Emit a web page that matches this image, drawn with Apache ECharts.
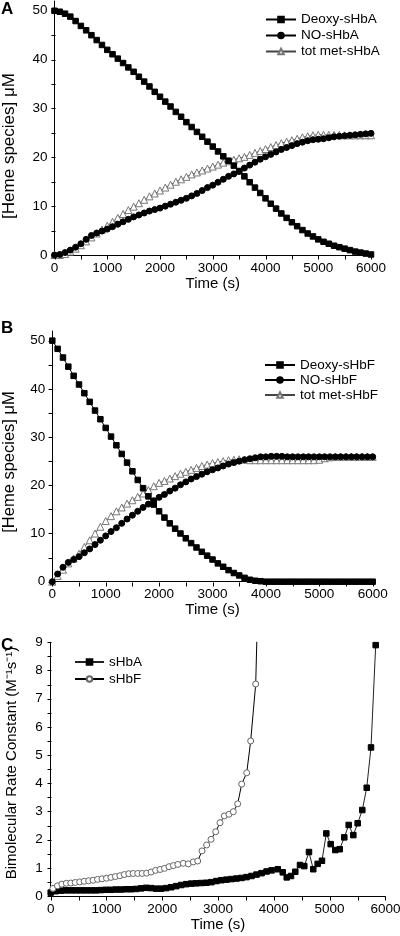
<!DOCTYPE html>
<html><head><meta charset="utf-8">
<script src="https://cdn.jsdelivr.net/npm/echarts@6/dist/echarts.min.js"></script>
<style>html,body{margin:0;padding:0;background:#fff}#c{width:400px;height:936px}</style>
</head><body><div id="c"></div>
<script>
// ---------- Data ----------
const timeAB = [0,100,200,300,400,500,600,700,800,900,1000,1100,1200,1300,1400,1500,1600,1700,1800,1900,2000,2100,2200,2300,2400,2500,2600,2700,2800,2900,3000,3100,3200,3300,3400,3500,3600,3700,3800,3900,4000,4100,4200,4300,4400,4500,4600,4700,4800,4900,5000,5100,5200,5300,5400,5500,5600,5700,5800,5900,6000];

const deoxyA = [50.0,49.8,49.4,48.8,47.9,46.9,46.0,45.0,44.0,43.0,42.0,41.1,40.2,39.3,38.4,37.5,36.5,35.5,34.5,33.4,32.4,31.4,30.4,29.3,28.3,27.2,26.2,25.2,24.2,23.2,22.2,21.2,20.2,19.3,18.3,17.2,16.1,14.9,13.8,12.7,11.6,10.5,9.5,8.5,7.6,6.7,5.9,5.1,4.4,3.8,3.2,2.7,2.3,1.9,1.6,1.3,1.0,0.7,0.5,0.3,0.1];
const noA = [0,0.1,0.5,1.0,1.6,2.3,3.2,4.0,4.5,4.9,5.3,5.8,6.3,6.8,7.3,7.8,8.2,8.6,9.0,9.3,9.6,10.0,10.4,10.8,11.2,11.6,12.1,12.6,13.2,13.8,14.3,14.9,15.5,16.1,16.6,17.1,17.8,18.4,19.0,19.6,20.1,20.6,21.1,21.6,22.0,22.4,22.8,23.1,23.4,23.6,23.7,23.8,24.0,24.2,24.3,24.4,24.5,24.6,24.7,24.8,24.9];
const metA = [0,0,0.2,0.7,1.3,2.0,2.8,3.6,4.4,5.2,6.0,6.8,7.6,8.4,9.2,9.9,10.6,11.3,12.0,12.6,13.2,13.8,14.4,15.0,15.5,16.0,16.5,16.9,17.3,17.7,18.1,18.5,18.9,19.2,19.5,19.8,20.1,20.5,20.9,21.3,21.7,22.1,22.5,22.9,23.2,23.5,23.8,24.1,24.3,24.5,24.6,24.6,24.6,24.6,24.6,24.5,24.5,24.5,24.5,24.5,24.5];

const deoxyB = [50.0,48.3,46.5,44.6,42.7,40.9,39.1,37.3,35.5,33.7,31.9,30.1,28.3,26.5,24.7,22.9,21.1,19.4,17.7,16.0,14.6,13.3,12.1,11.0,10.0,9.0,8.0,7.1,6.2,5.4,4.6,3.8,3.1,2.4,1.8,1.3,0.8,0.4,0.2,0.1,0,0,0,0,0,0,0,0,0,0,0,0,0,0,0,0,0,0,0,0,0];
const noB = [0,1.6,3.0,4.0,4.6,5.2,6.0,6.8,7.7,8.6,9.5,10.4,11.2,12.1,13.0,13.8,14.6,15.4,16.1,16.8,17.5,18.1,18.8,19.4,20.1,20.7,21.3,21.8,22.3,22.8,23.2,23.6,24.0,24.4,24.7,25.0,25.3,25.5,25.7,25.9,25.9,26.0,26.0,26.0,25.9,25.9,25.9,25.9,25.9,25.9,25.9,25.9,25.9,25.9,25.9,25.9,25.9,25.9,25.9,25.9,25.9];
const metB = [0,1.2,2.5,3.8,4.8,5.8,7.2,8.6,10.0,11.4,12.6,13.6,14.6,15.4,16.2,16.9,17.6,18.3,19.0,19.8,20.5,20.9,21.4,21.9,22.4,22.8,23.2,23.6,24.0,24.3,24.6,24.8,25.0,25.2,25.3,25.4,25.3,25.2,25.2,25.2,25.2,25.2,25.2,25.2,25.2,25.2,25.2,25.2,25.2,25.2,25.3,25.6,25.8,25.9,25.9,25.9,25.9,25.9,25.9,25.9,25.9];

const sHbA_t = [0,90,180,270,360,450,540,630,720,810,900,990,1080,1170,1260,1350,1440,1530,1620,1710,1800,1890,1980,2070,2160,2250,2340,2430,2520,2610,2700,2790,2880,2970,3060,3150,3240,3330,3420,3510,3600,3690,3780,3870,3960,4070,4160,4231,4308,4385,4469,4546,4630,4707,4786,4863,4941,5019,5102,5181,5263,5342,5425,5503,5586,5665,5742,5826];
const sHbA_v = [0.12,0.17,0.19,0.20,0.20,0.20,0.20,0.20,0.20,0.20,0.21,0.22,0.22,0.23,0.23,0.24,0.24,0.25,0.27,0.29,0.28,0.26,0.26,0.28,0.31,0.35,0.39,0.42,0.44,0.45,0.46,0.47,0.49,0.53,0.56,0.58,0.60,0.62,0.64,0.67,0.71,0.76,0.81,0.87,0.91,0.95,0.84,0.66,0.71,0.86,1.10,1.06,1.56,0.95,1.14,1.25,2.22,1.84,1.63,1.66,2.08,2.52,2.16,2.58,3.05,3.84,5.27,8.90];
const sHbF_t = [40,120,200,280,360,440,520,600,680,760,840,920,1000,1080,1160,1240,1320,1400,1480,1560,1640,1720,1800,1880,1960,2040,2120,2200,2280,2377,2467,2557,2635,2712,2796,2874,2958,3035,3112,3196,3274,3352,3424,3514,3585,3675,3720];
const sHbF_v = [0.27,0.36,0.42,0.45,0.46,0.48,0.50,0.52,0.54,0.56,0.59,0.61,0.63,0.66,0.69,0.72,0.76,0.79,0.80,0.80,0.80,0.81,0.85,0.91,0.94,0.98,1.04,1.08,1.12,1.16,1.14,1.21,1.24,1.60,1.81,2.01,2.28,2.60,2.84,2.90,2.99,3.27,3.97,4.37,5.50,7.52,11.0];

// tick positions (major ticks carry labels)
const xTickVals = [0,500,1000,1500,2000,2500,3000,3500,4000,4500,5000,5500,6000];
const yTickValsAB = [0,5,10,15,20,25,30,35,40,45,50];
const yLabelValsAB = [0,10,20,30,40,50];
const yTickValsC = [0,0.5,1,1.5,2,2.5,3,3.5,4,4.5,5,5.5,6,6.5,7,7.5,8,8.5,9];

// ---------- Chart ----------
const FONT = '"Liberation Sans", Arial, sans-serif';
const chart = echarts.init(document.getElementById('c'), null, {renderer: 'canvas'});
function pairs(t, v) { return t.map((x, i) => [x, v[i]]); }
const plain = v => String(v);

function xAx(gi) {
  return {
    type: 'value', gridIndex: gi, min: 0, max: 6000, interval: 1000,
    name: 'Time (s)', nameLocation: 'middle', nameGap: gi === 0 ? 21.5 : (gi === 1 ? 21 : 18.5),
    nameTextStyle: {fontFamily: FONT, fontSize: 15, color: '#000'},
    axisLine: {show: true, onZero: false, lineStyle: {color: '#000', width: 1}},
    axisTick: {show: false},
    axisLabel: {margin: 6, formatter: plain, fontFamily: FONT, fontSize: 13.5, color: '#000'},
    splitLine: {show: false}
  };
}
function yAx(gi, max) {
  return {
    type: 'value', gridIndex: gi, min: 0, max: max, interval: gi === 2 ? 1 : 10,
    axisLine: {show: true, onZero: false, lineStyle: {color: '#000', width: 1}},
    axisTick: {show: false},
    axisLabel: {margin: gi === 2 ? 8 : 7, showMaxLabel: gi === 2,
      formatter: v => (gi === 2 || yLabelValsAB.indexOf(v) >= 0) ? String(v) : '',
      fontFamily: FONT, fontSize: 13.5, color: '#000'},
    splitLine: {show: false}
  };
}
function ser(name, gi, data, symbol, size, fill, border, lineColor) {
  return {
    name: name, type: 'line', xAxisIndex: gi, yAxisIndex: gi, data: data,
    symbol: symbol, symbolSize: size, showSymbol: true, clip: true,
    itemStyle: {color: fill, borderColor: border, borderWidth: 1},
    lineStyle: {color: lineColor, width: 1},
    emphasis: {disabled: true}
  };
}
const legText = {fontFamily: FONT, fontSize: 13.5, color: '#000', lineHeight: 14};

const baseGraphic = [
  {type: 'text', left: 1, top: 1, style: {text: 'A', font: 'bold 17px ' + FONT, fill: '#000'}},
  {type: 'text', left: 1, top: 320, style: {text: 'B', font: 'bold 17px ' + FONT, fill: '#000'}},
  {type: 'text', left: 1, top: 637, style: {text: 'C', font: 'bold 17px ' + FONT, fill: '#000'}},
  {type: 'text', x: 9, y: 146, rotation: Math.PI / 2, style: {text: '[Heme species] μM', font: '17px ' + FONT, fill: '#000', align: 'center', verticalAlign: 'middle'}},
  {type: 'text', x: 9, y: 462, rotation: Math.PI / 2, style: {text: '[Heme species] μM', font: '16.5px ' + FONT, fill: '#000', align: 'center', verticalAlign: 'middle'}},
  {type: 'text', x: 11.5, y: 763, rotation: Math.PI / 2, style: {text: 'Bimolecular Rate Constant (M⁻¹s⁻¹)', font: '15px ' + FONT, fill: '#000', align: 'center', verticalAlign: 'middle'}}
];

const option = {
  animation: false,
  backgroundColor: '#fff',
  grid: [
    {left: 54.5, top: 1, width: 316.5, height: 254, outerBoundsMode: 'none'},
    {left: 52.3, top: 331, width: 320.4, height: 250.7, outerBoundsMode: 'none'},
    {left: 50.7, top: 642.3, width: 334.7, height: 253.7, outerBoundsMode: 'none'}
  ],
  xAxis: [xAx(0), xAx(1), xAx(2)],
  yAxis: [yAx(0, 52), yAx(1, 52), yAx(2, 9)],
  legend: [
    {data: ['Deoxy-sHbA', 'NO-sHbA', 'tot met-sHbA'], orient: 'vertical', left: 260, top: 7.5, itemWidth: 30, itemHeight: 7, itemGap: 2, selectedMode: false, textStyle: legText},
    {data: ['Deoxy-sHbF', 'NO-sHbF', 'tot met-sHbF'], orient: 'vertical', left: 259, top: 353, itemWidth: 30, itemHeight: 7, itemGap: 1, selectedMode: false, textStyle: legText},
    {data: ['sHbA', 'sHbF'], orient: 'vertical', left: 69, top: 650, itemWidth: 29, itemHeight: 7, itemGap: 3, selectedMode: false, textStyle: legText}
  ],
  graphic: baseGraphic,
  series: [
    ser('tot met-sHbA', 0, pairs(timeAB, metA), 'triangle', 7, '#fff', '#777', '#444'),
    ser('NO-sHbA', 0, pairs(timeAB, noA), 'circle', 6, '#000', '#000', '#000'),
    ser('Deoxy-sHbA', 0, pairs(timeAB, deoxyA), 'rect', 5.5, '#000', '#000', '#000'),
    ser('tot met-sHbF', 1, pairs(timeAB, metB), 'triangle', 7, '#fff', '#777', '#444'),
    ser('NO-sHbF', 1, pairs(timeAB, noB), 'circle', 6, '#000', '#000', '#000'),
    ser('Deoxy-sHbF', 1, pairs(timeAB, deoxyB), 'rect', 5.5, '#000', '#000', '#000'),
    ser('sHbA', 2, pairs(sHbA_t, sHbA_v), 'rect', 5.5, '#000', '#000', '#222'),
    ser('sHbF', 2, pairs(sHbF_t, sHbF_v), 'circle', 6, '#fff', '#666', '#000')
  ]
};
chart.setOption(option);

// Outward axis ticks, positioned through each grid's own axis scales
const tickEls = [];
function addTicks(gi, vals, isX) {
  vals.forEach(v => {
    const p = chart.convertToPixel({gridIndex: gi}, isX ? [v, 0] : [0, v]);
    if (!p) return;
    const x = Math.round(p[0]) + 0.5, y = Math.round(p[1]) + 0.5;
    tickEls.push({type: 'line', silent: true, z: 10,
      shape: isX ? {x1: x, y1: y, x2: x, y2: y + 4} : {x1: x, y1: y, x2: x - 4, y2: y},
      style: {stroke: '#000', lineWidth: 1}});
  });
}
[0, 1].forEach(gi => { addTicks(gi, xTickVals, true); addTicks(gi, yTickValsAB, false); });
addTicks(2, xTickVals, true); addTicks(2, yTickValsC, false);
chart.setOption({graphic: baseGraphic.concat(tickEls)}, {replaceMerge: ['graphic']});
</script>
</body></html>
